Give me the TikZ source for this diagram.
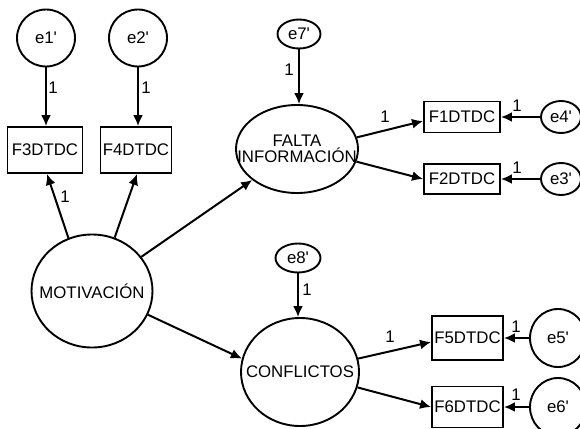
\documentclass[tikz,border=0pt]{standalone}
\usepackage{fontspec}
\setmainfont{Liberation Sans}
\usetikzlibrary{shapes.geometric,arrows.meta,calc}
\newcommand{\ap}{\textquotesingle}
\begin{document}
\begin{tikzpicture}[x=1pt,y=-1pt,
  every node/.style={font=\fontsize{16.8}{13.5}\selectfont, text=black},
  lat/.style={draw, ellipse, line width=1.9pt, inner ysep=0pt},
  obs/.style={draw, rectangle, line width=1.9pt, inner sep=0pt},
  arr/.style={line width=2pt, -{Latex[length=11pt,width=10pt]}},
  lab/.style={inner sep=0pt}]
\useasboundingbox (0,0) rectangle (580,428);
\clip (0,0) rectangle (580,428);

% error terms
\node[lat, inner xsep=0pt, minimum width=58pt, minimum height=57pt] (e1) at (46,38) {e1\ap};
\node[lat, inner xsep=0pt, minimum width=58pt, minimum height=57pt] (e2) at (138,38) {e2\ap};
\node[lat, inner xsep=-2pt, minimum width=43pt, minimum height=29pt] (e7) at (299,34) {e7\ap};
\node[lat, inner xsep=-3pt, minimum width=40pt, minimum height=32pt] (e4) at (561,117) {e4\ap};
\node[lat, inner xsep=-3pt, minimum width=40pt, minimum height=32pt] (e3) at (561,179) {e3\ap};
\node[lat, inner xsep=-2pt, minimum width=45pt, minimum height=29pt] (e8) at (298,258) {e8\ap};
\node[lat, inner xsep=0pt, minimum width=56pt, minimum height=58pt] (e5) at (558,338) {e5\ap};
\node[lat, inner xsep=0pt, minimum width=56pt, minimum height=58pt] (e6) at (558,407) {e6\ap};

% observed
\node[obs, minimum width=75pt, minimum height=46pt] (F3) at (45,150) {F3DTDC};
\node[obs, minimum width=71pt, minimum height=46pt] (F4) at (136,150) {F4DTDC};
\node[obs, minimum width=76pt, minimum height=31pt] (F1) at (462,117) {F1DTDC};
\node[obs, minimum width=76pt, minimum height=30pt] (F2) at (462,179) {F2DTDC};
\node[obs, minimum width=71pt, minimum height=44pt] (F5) at (467.5,338) {F5DTDC};
\node[obs, minimum width=71pt, minimum height=41pt] (F6) at (467.5,407) {F6DTDC};

% latent
\node[lat, inner xsep=-22pt, minimum width=121pt, minimum height=113pt] (MOT) at (92,291) {MOTIVACIÓN};
\node[lat, inner xsep=-32pt, align=center, minimum width=122pt, minimum height=88pt] (FAL) at (297,149) {FALTA\\INFORMACIÓN};
\node[lat, inner xsep=-26pt, minimum width=118pt, minimum height=108pt] (CON) at (300,372) {CONFLICTOS};

% connectors
\draw[arr] (e1.south) -- (e1.south |- F3.north);
\draw[arr] (e2.south) -- (e2.south |- F4.north);
\draw[arr] (MOT.114) -- ([xshift=2pt]F3.south);
\draw[arr] (MOT.67) -- ([xshift=1pt]F4.south);
\draw[arr] (MOT) -- (FAL);
\draw[arr] (MOT.-23) -- (CON.167);
\draw[arr] (e7.south) -- (e7.south |- FAL.north);
\draw[arr] (FAL.11) -- ([yshift=-4pt]F1.west);
\draw[arr] (FAL.-12) -- (F2.west);
\draw[arr] (e4.west) -- (e4.west -| F1.east);
\draw[arr] (e3.west) -- (e3.west -| F2.east);
\draw[arr] (e8.south) -- (e8.south |- CON.north);
\draw[arr] (CON.13) -- ([yshift=-4pt]F5.west);
\draw[arr] (CON.-15) -- (F6.west);
\draw[arr] (e5.west) -- (e5.west -| F5.east);
\draw[arr] (e6.west) -- (e6.west -| F6.east);

% labels
\node[lab] (l1) at (53,88) {1};
\node[lab] (l2) at (146,88) {1};
\node[lab] (l3) at (65,197) {1};
\node[lab] (l4) at (289,70) {1};
\node[lab] (l5) at (385,117) {1};
\node[lab] (l6) at (517,106) {1};
\node[lab] (l7) at (517,168) {1};
\node[lab] (l8) at (307,290) {1};
\node[lab] (l9) at (390,337) {1};
\node[lab] (l10) at (516,327) {1};
\node[lab] (l11) at (516,395) {1};
\end{tikzpicture}
\end{document}
